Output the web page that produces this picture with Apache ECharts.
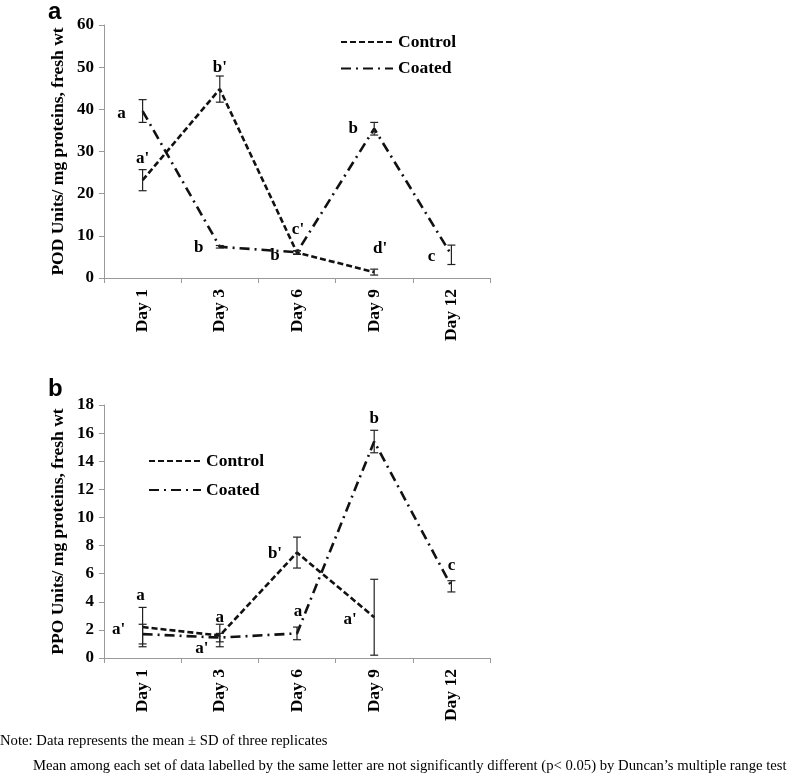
<!DOCTYPE html>
<html><head><meta charset="utf-8">
<script src="https://cdn.jsdelivr.net/npm/echarts@6/dist/echarts.min.js"></script>
<style>html,body{margin:0;padding:0;background:#fff}#c{width:798px;height:776px}</style>
</head><body><div id="c"></div>
<script>
// ---------- data ----------
const days = ['Day 1', 'Day 3', 'Day 6', 'Day 9', 'Day 12'];
const seriesNames = ['Control', 'Coated'];

// Panel a: POD
const podControl   = [23.2, 44.8, 6.0, 1.4, null];
const podControlSD = [2.5, 3.1, 0.4, 0.7, null];
const podCoated    = [39.6, 7.4, 6.1, 35.4, 5.5];
const podCoatedSD  = [2.7, 0.3, 0.4, 1.5, 2.3];
const podTicks = [0, 10, 20, 30, 40, 50, 60];
// letters: [dayIndex, yValue, text]
const podLetters = [[0, 39.1, 'a'], [0, 28.2, "a'"], [1, 50.0, "b'"], [1, 7.1, 'b'], [2, 5.4, 'b'],
                    [2, 11.4, "c'"], [3, 35.5, 'b'], [3, 6.9, "d'"], [4, 5.0, 'c']];

// Panel b: PPO
const ppoControl   = [2.2, 1.6, 7.5, 2.9, null];
const ppoControlSD = [1.4, 0.8, 1.1, 2.7, null];
const ppoCoated    = [1.7, 1.45, 1.75, 15.4, 5.1];
const ppoCoatedSD  = [0.7, 0.3, 0.45, 0.8, 0.4];
const ppoTicks = [0, 2, 4, 6, 8, 10, 12, 14, 16, 18];
const ppoLetters = [[0, 4.42, 'a'], [0, 2.0, "a'"], [1, 2.9, 'a'], [1, 0.64, "a'"], [2, 7.4, "b'"],
                    [2, 3.3, 'a'], [3, 2.7, "a'"], [3, 17.0, 'b'], [4, 6.6, 'c']];

// label horizontal shifts (px), style only
const podLetterShift = [-21, 0, 0, -21, -22, 1, -21, 6, -20];
const ppoLetterShift = [-2, -24, 0, -18, -22, 1, -24, 0, 0];

const yNames = ['POD Units/ mg proteins, fresh wt', 'PPO Units/ mg proteins, fresh wt'];
const panelLetters = ['a', 'b'];
const note1 = 'Note: Data represents the mean \u00b1 SD of three replicates';
const note2 = 'Mean among each set of data labelled by the same letter are not significantly different (p< 0.05) by Duncan\u2019s multiple range test';

// ---------- styles ----------
const SERIF = '"Liberation Serif", "Times New Roman", serif';
const INK = '#111';
const AXIS = '#9a9a9a';
const dashCtrl = [6, 3];
const dashCoat = [10, 5, 2, 5];

function errRender(params, api) {
  const x = api.value(0), m = api.value(1), sd = api.value(2);
  if (m == null || isNaN(m) || isNaN(sd)) return null;
  const p1 = api.coord([x, m - sd]), p2 = api.coord([x, m + sd]);
  const w = 4;
  const st = { stroke: '#222', lineWidth: 1.2 };
  return { type: 'group', children: [
    { type: 'line', shape: { x1: p1[0], y1: p1[1], x2: p2[0], y2: p2[1] }, style: st },
    { type: 'line', shape: { x1: p1[0] - w, y1: p1[1], x2: p1[0] + w, y2: p1[1] }, style: st },
    { type: 'line', shape: { x1: p2[0] - w, y1: p2[1], x2: p2[0] + w, y2: p2[1] }, style: st }
  ]};
}

function errData(mean, sd) {
  return mean.map((m, i) => m == null ? [i, NaN, NaN] : [i, m, sd[i]]);
}

function makeLetterRender(letters, shifts) {
  return function (params, api) {
    const i = params.dataIndex;
    const p = api.coord([api.value(0), api.value(1)]);
    return { type: 'text', x: p[0] + shifts[i], y: p[1],
             style: { text: letters[i][2], fill: '#000', align: 'center', verticalAlign: 'middle',
                      font: 'bold 17px ' + SERIF } };
  };
}

const grids = [
  { left: 104, width: 386, top: 25, height: 253, outerBoundsMode: 'none' },
  { left: 104, width: 386, top: 405, height: 253, outerBoundsMode: 'none' }
];

const tickSets = [podTicks, ppoTicks];
const xAxes = [0, 1].map(g => ({
  type: 'category', gridIndex: g, data: days, boundaryGap: true,
  axisLine: { lineStyle: { color: AXIS, width: 1 } },
  axisTick: { show: true, length: 5, lineStyle: { color: AXIS } },
  axisLabel: { rotate: 90, margin: 11, color: '#000', fontFamily: SERIF, fontWeight: 'bold', fontSize: 17.5 },
  splitLine: { show: false }
}));
const yAxes = [0, 1].map(g => {
  const t = tickSets[g];
  return {
    type: 'value', gridIndex: g, min: t[0], max: t[t.length - 1], interval: t[1] - t[0],
    name: yNames[g], nameLocation: 'middle', nameRotate: 90, nameGap: 37,
    nameTextStyle: { color: '#000', fontFamily: SERIF, fontWeight: 'bold', fontSize: 17.5 },
    axisLine: { show: true, lineStyle: { color: AXIS, width: 1 } },
    axisTick: { show: true, length: 5, lineStyle: { color: AXIS } },
    axisLabel: { margin: 10, color: '#000', fontFamily: SERIF, fontWeight: 'bold', fontSize: 17 },
    splitLine: { show: false }
  };
});

function lineSeries(name, g, data, dash) {
  return {
    name: name, type: 'line', xAxisIndex: g, yAxisIndex: g, data: data,
    symbol: 'none', connectNulls: false, silent: true,
    lineStyle: { color: INK, width: 2.6, type: dash },
    itemStyle: { color: INK }, z: 3
  };
}
function errSeries(g, mean, sd) {
  return { type: 'custom', xAxisIndex: g, yAxisIndex: g, renderItem: errRender,
           data: errData(mean, sd), silent: true, z: 4, encode: { x: 0, y: 1 } };
}
function letterSeries(g, letters, shifts) {
  return { type: 'custom', xAxisIndex: g, yAxisIndex: g, silent: true, z: 5,
           renderItem: makeLetterRender(letters, shifts),
           data: letters.map(l => [l[0], l[1]]), encode: { x: 0, y: 1 } };
}

const legendCommon = {
  orient: 'vertical', data: seriesNames, itemWidth: 52, itemHeight: 14, padding: 0,
  selectedMode: false,
  itemStyle: { color: 'rgba(0,0,0,0)', borderWidth: 0 },
  textStyle: { color: '#000', fontFamily: SERIF, fontWeight: 'bold', fontSize: 17.5 }
};

const option = {
  backgroundColor: '#fff',
  animation: false,
  grid: grids,
  xAxis: xAxes,
  yAxis: yAxes,
  legend: [
    Object.assign({ left: 340, top: 33, itemGap: 8.5 }, legendCommon),
    Object.assign({ left: 148, top: 452, itemGap: 11 }, legendCommon)
  ],
  series: [
    lineSeries(seriesNames[0], 0, podControl, dashCtrl),
    lineSeries(seriesNames[1], 0, podCoated, dashCoat),
    errSeries(0, podControl, podControlSD),
    errSeries(0, podCoated, podCoatedSD),
    letterSeries(0, podLetters, podLetterShift),
    lineSeries(seriesNames[0], 1, ppoControl, dashCtrl),
    lineSeries(seriesNames[1], 1, ppoCoated, dashCoat),
    errSeries(1, ppoControl, ppoControlSD),
    errSeries(1, ppoCoated, ppoCoatedSD),
    letterSeries(1, ppoLetters, ppoLetterShift)
  ],
  graphic: [
    { type: 'text', left: 48, top: 0, style: { text: panelLetters[0], fill: '#000', font: 'bold 24px "Liberation Sans", Arial, sans-serif' } },
    { type: 'text', left: 48, top: 377, style: { text: panelLetters[1], fill: '#000', font: 'bold 24px "Liberation Sans", Arial, sans-serif' } },
    { type: 'text', left: 0, top: 734, style: { text: note1, fill: '#000', font: '14.7px "Liberation Serif", "Times New Roman", serif' } },
    { type: 'text', left: 33, top: 759, style: { text: note2, fill: '#000', font: '14.7px "Liberation Serif", "Times New Roman", serif' } }
  ]
};

const chart = echarts.init(document.getElementById('c'), null, { renderer: 'canvas' });
chart.setOption(option);
</script>
</body></html>
